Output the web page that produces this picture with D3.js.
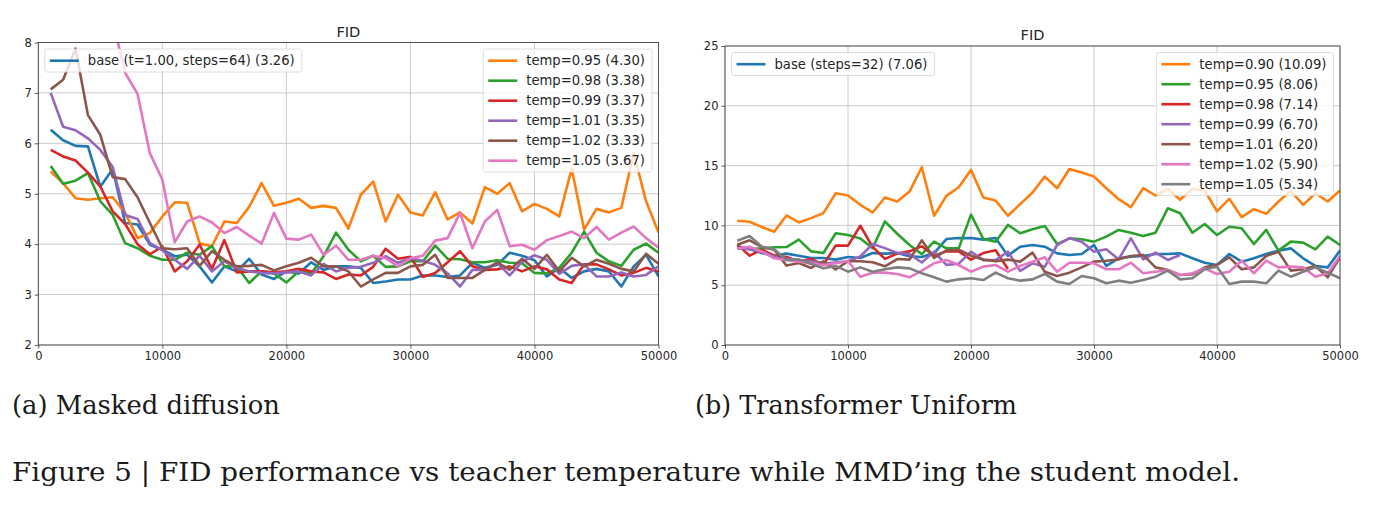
<!DOCTYPE html>
<html>
<head>
<meta charset="utf-8">
<script src="https://cdn.jsdelivr.net/npm/d3@7"></script>
<style>
  body { margin: 0; background: #fff; }
  text { font-family: "DejaVu Sans", sans-serif; }
</style>
</head>
<body>
<svg id="fig" width="1379" height="507"></svg>
<script>
// training steps at which FID was measured
const steps = d3.range(1000, 50001, 1000);
const xTicks = [0, 10000, 20000, 30000, 40000, 50000];

// (a) masked diffusion
const mdBase = [6.27,6.06,5.95,5.94,5.14,5.49,4.42,4.39,3.99,3.89, 3.76,3.79,3.56,3.24,3.56,3.46,3.71,3.40,3.31,3.46,
                3.42,3.64,3.49,3.56,3.56,3.53,3.23,3.26,3.30,3.30, 3.38,3.38,3.35,3.38,3.63,3.53,3.59,3.83,3.77,3.68,
                3.36,3.53,3.33,3.46,3.51,3.46,3.16,3.56,3.79,3.36];
const md095 = [5.44,5.21,4.91,4.88,4.91,4.93,4.62,4.12,4.22,4.55, 4.83,4.82,4.02,3.96,4.45,4.42,4.74,5.21,4.76,4.82,
               4.90,4.72,4.76,4.72,4.31,4.98,5.24,4.45,4.98,4.63, 4.57,5.03,4.49,4.63,4.41,5.13,5.00,5.21,4.65,4.80,
               4.70,4.55,5.50,4.29,4.70,4.63,4.72,5.81,4.85,4.23];
const md098 = [5.55,5.20,5.26,5.41,4.85,4.58,4.02,3.92,3.77,3.69, 3.69,3.83,3.79,3.96,3.56,3.56,3.23,3.46,3.42,3.24,
               3.46,3.42,3.76,4.23,3.89,3.66,3.77,3.55,3.56,3.66, 3.66,3.97,3.71,3.70,3.64,3.64,3.68,3.63,3.62,3.43,
               3.42,3.53,3.83,4.25,3.83,3.66,3.57,3.89,4.01,3.83];
const md099 = [5.87,5.74,5.66,5.42,5.14,4.65,4.40,4.00,3.80,3.95, 3.46,3.66,3.99,3.51,4.08,3.44,3.46,3.46,3.44,3.46,
               3.51,3.46,3.44,3.31,3.40,3.38,3.55,3.91,3.71,3.75, 3.35,3.43,3.64,3.86,3.56,3.49,3.50,3.56,3.46,3.56,
               3.50,3.30,3.23,3.60,3.60,3.50,3.38,3.43,3.53,3.46];
const md101 = [7.00,6.33,6.26,6.10,5.87,5.53,4.58,4.50,4.02,3.88, 3.69,3.51,3.77,3.46,3.66,3.53,3.46,3.43,3.42,3.44,
               3.46,3.38,3.61,3.46,3.53,3.55,3.63,3.76,3.63,3.72, 3.67,3.59,3.42,3.16,3.49,3.49,3.63,3.38,3.65,3.78,
               3.69,3.41,3.57,3.60,3.36,3.36,3.44,3.36,3.39,3.56];
const md102 = [7.07,7.26,7.88,6.56,6.17,5.33,5.29,4.93,4.42,3.92, 3.90,3.92,3.57,3.86,3.69,3.56,3.57,3.59,3.48,3.56,
               3.63,3.73,3.56,3.56,3.46,3.16,3.30,3.43,3.43,3.56, 3.59,3.79,3.33,3.33,3.33,3.49,3.64,3.49,3.71,3.51,
               3.79,3.46,3.73,3.56,3.69,3.61,3.51,3.46,3.81,3.61];
const md105 = [11.0,10.6,10.2,9.8,9.2,8.43,7.40,6.98,5.80,5.28, 4.04,4.45,4.55,4.43,4.22,4.34,4.17,4.01,4.62,4.11,
               4.09,4.19,3.79,3.97,3.69,3.69,3.77,3.72,3.56,3.72, 3.77,4.07,4.12,4.62,3.92,4.45,4.68,3.96,3.99,3.89,
               4.08,4.16,4.25,4.12,4.34,4.09,4.23,4.35,4.12,3.93];

// (b) transformer uniform
const tuBase = [8.25,8.03,7.69,7.47,7.64,7.47,7.28,7.28,7.14,7.36, 7.28,7.69,7.64,7.69,7.42,7.36,7.69,8.86,8.94,8.94,
                8.81,8.94,7.47,8.22,8.36,8.22,7.66,7.53,7.61,8.36, 6.61,7.25,7.39,7.44,7.61,7.61,7.66,7.25,6.88,6.69,
                7.61,6.97,7.25,7.61,7.89,8.08,7.25,6.61,6.49,7.89];
const tu090 = [10.39,10.31,9.86,9.47,10.83,10.25,10.61,11.03,12.69,12.50, 11.72,11.08,12.33,12.00,12.83,14.86,10.81,12.47,13.19,14.64,
               12.33,12.08,10.81,11.78,12.75,14.08,13.11,14.72,14.42,14.08, 13.11,12.19,11.53,13.11,12.50,13.06,12.14,13.06,12.92,11.17,
               12.22,10.69,11.36,10.97,12.00,12.89,11.72,12.69,12.00,12.92];
const tu095 = [8.11,8.03,8.08,8.17,8.19,8.81,7.83,7.69,9.34,9.20, 8.90,8.10,10.33,9.30,8.36,7.60,8.64,8.08,8.08,10.90,
               8.86,8.64,10.04,9.34,9.67,9.95,8.44,8.92,8.84,8.64, 9.06,9.62,9.39,9.11,9.39,11.43,11.01,9.39,10.12,9.20,
               9.89,9.76,8.44,9.62,7.89,8.64,8.56,8.00,9.06,8.36];
const tu098 = [8.39,7.47,7.97,7.47,7.36,7.00,7.19,6.72,8.31,8.31, 9.97,8.20,7.20,7.64,7.83,8.25,7.47,7.83,7.83,7.14,
               7.69,7.92,6.36];
const tu099 = [8.08,8.00,7.80,7.40,7.20,7.10,7.00,6.80,6.90,7.00, 7.40,8.44,8.10,7.70,7.60,6.90,7.80,6.70,6.80,7.80,
               7.10,7.10,7.80,6.20,6.83,6.55,8.36,8.92,8.64,7.80, 8.00,7.16,8.92,7.16,7.72,7.11,7.53];
const tu101 = [8.39,8.75,8.19,7.97,6.64,6.86,6.44,7.00,6.31,7.00, 7.00,6.92,6.58,7.19,7.14,8.75,7.28,7.92,7.97,7.47,
               7.14,7.00,7.14,6.97,7.72,6.13,5.77,6.05,6.49,6.97, 7.05,7.16,7.44,7.53,6.49,6.27,5.85,5.91,6.49,6.69,
               7.33,6.33,6.49,7.44,7.80,6.22,6.33,6.61,5.66,7.33];
const tu102 = [8.08,8.22,7.80,7.25,7.11,6.97,6.83,6.69,6.83,7.02, 5.71,6.05,6.05,5.94,5.66,6.22,6.83,7.11,6.69,6.13,
               6.55,6.69,6.13,6.61,6.97,7.33,6.13,6.88,6.88,6.83, 6.33,6.33,6.88,6.00,6.13,6.27,5.85,6.00,6.41,5.94,
               6.13,7.05,6.00,7.05,6.49,6.55,6.49,5.71,6.00,7.44];
const tu105 = [8.72,9.11,8.22,8.00,7.11,7.16,6.77,6.41,6.61,6.13, 6.49,6.13,6.33,6.49,6.41,6.00,5.66,5.30,5.49,5.58,
               5.43,6.05,5.58,5.38,5.49,5.94,5.30,5.10,5.77,5.58, 5.16,5.38,5.21,5.43,5.71,6.22,5.49,5.58,6.33,6.55,
               5.10,5.30,5.30,5.16,6.22,5.71,6.13,6.49,6.05,5.58];

const tab = { blue: "#1f77b4", orange: "#ff7f0e", green: "#2ca02c", red: "#d62728",
              purple: "#9467bd", brown: "#8c564b", pink: "#e377c2", gray: "#7f7f7f" };

const panels = [
  { x0: 38.3, x1: 658.5, yTop: 42.5, yBot: 345, yDomain: [2, 8], yTicks: [2, 3, 4, 5, 6, 7, 8],
    base: { label: "base (t=1.00, steps=64) (3.26)", values: mdBase, color: tab.blue },
    temps: [
      { label: "temp=0.95 (4.30)", values: md095, color: tab.orange },
      { label: "temp=0.98 (3.38)", values: md098, color: tab.green },
      { label: "temp=0.99 (3.37)", values: md099, color: tab.red },
      { label: "temp=1.01 (3.35)", values: md101, color: tab.purple },
      { label: "temp=1.02 (3.33)", values: md102, color: tab.brown },
      { label: "temp=1.05 (3.67)", values: md105, color: tab.pink }
    ] },
  { x0: 725, x1: 1340, yTop: 46, yBot: 345, yDomain: [0, 25], yTicks: [0, 5, 10, 15, 20, 25],
    base: { label: "base (steps=32) (7.06)", values: tuBase, color: tab.blue },
    temps: [
      { label: "temp=0.90 (10.09)", values: tu090, color: tab.orange },
      { label: "temp=0.95 (8.06)", values: tu095, color: tab.green },
      { label: "temp=0.98 (7.14)", values: tu098, color: tab.red },
      { label: "temp=0.99 (6.70)", values: tu099, color: tab.purple },
      { label: "temp=1.01 (6.20)", values: tu101, color: tab.brown },
      { label: "temp=1.02 (5.90)", values: tu102, color: tab.pink },
      { label: "temp=1.05 (5.34)", values: tu105, color: tab.gray }
    ] }
];

const svg = d3.select("#fig");
svg.append("rect").attr("width", 1379).attr("height", 507).attr("fill", "#fff");

function legend(g, entries, left, top, anchorRight) {
  const lg = g.append("g");
  const box = lg.append("rect");
  const rows = lg.selectAll("g").data(entries).enter().append("g");
  rows.append("line")
      .attr("x1", 5).attr("x2", 34)
      .attr("y1", (d, i) => 11.7 + 20 * i).attr("y2", (d, i) => 11.7 + 20 * i)
      .attr("stroke", d => d.color).attr("stroke-width", 2.6);
  const txt = rows.append("text")
      .attr("x", 43).attr("y", (d, i) => 11.7 + 20 * i)
      .attr("dy", "0.36em")
      .attr("font-size", 13.2).attr("fill", "#262626")
      .text(d => d.label);
  let w = 0;
  txt.each(function() { w = Math.max(w, this.getComputedTextLength()); });
  const bw = w + 50, bh = entries.length * 20 + 3;
  box.attr("width", bw).attr("height", bh).attr("rx", 2)
     .attr("fill", "#fff").attr("fill-opacity", 0.8)
     .attr("stroke", "#d6d6d6").attr("stroke-width", 0.8);
  const lx = anchorRight ? left - bw : left;
  lg.attr("transform", "translate(" + lx + "," + top + ")");
}

panels.forEach(function(p, pi) {
  const x = d3.scaleLinear().domain([0, 50000]).range([p.x0, p.x1]);
  const y = d3.scaleLinear().domain(p.yDomain).range([p.yBot, p.yTop]);
  const g = svg.append("g");

  // grid
  g.selectAll(".gx").data(xTicks).enter().append("line")
      .attr("x1", d => x(d)).attr("x2", d => x(d))
      .attr("y1", p.yTop).attr("y2", p.yBot)
      .attr("stroke", "#c4c4c4").attr("stroke-width", 0.9);
  g.selectAll(".gy").data(p.yTicks).enter().append("line")
      .attr("x1", p.x0).attr("x2", p.x1)
      .attr("y1", d => y(d)).attr("y2", d => y(d))
      .attr("stroke", "#c4c4c4").attr("stroke-width", 0.9);

  // lines
  const clipId = "clip" + pi;
  g.append("clipPath").attr("id", clipId).append("rect")
      .attr("x", p.x0).attr("y", p.yTop)
      .attr("width", p.x1 - p.x0).attr("height", p.yBot - p.yTop);
  const line = d3.line().x((d, i) => x(steps[i])).y(d => y(d));
  const all = [p.base].concat(p.temps);
  g.append("g").attr("clip-path", "url(#" + clipId + ")")
    .selectAll("path").data(all).enter().append("path")
      .attr("d", d => line(d.values))
      .attr("fill", "none")
      .attr("stroke", d => d.color)
      .attr("stroke-width", 2.6)
      .attr("stroke-linejoin", "round");

  // axes
  const xa = g.append("g").attr("transform", "translate(0," + p.yBot + ")")
      .call(d3.axisBottom(x).tickValues(xTicks).tickFormat(d3.format("d")).tickSize(3.5).tickPadding(3));
  const ya = g.append("g").attr("transform", "translate(" + p.x0 + ",0)")
      .call(d3.axisLeft(y).tickValues(p.yTicks).tickFormat(d3.format("d")).tickSize(3.5).tickPadding(3));
  [xa, ya].forEach(a => {
    a.select(".domain").remove();
    a.selectAll("line").attr("stroke", "#333").attr("stroke-width", 0.8);
    a.selectAll("text").attr("font-size", 11.5).attr("fill", "#262626")
      .attr("font-family", "DejaVu Sans, sans-serif");
  });

  // frame
  g.append("rect")
      .attr("x", p.x0).attr("y", p.yTop)
      .attr("width", p.x1 - p.x0).attr("height", p.yBot - p.yTop)
      .attr("fill", "none").attr("stroke", "#333").attr("stroke-width", 0.8);

  // title
  g.append("text")
      .attr("x", (p.x0 + p.x1) / 2).attr("y", p.yTop - 6)
      .attr("text-anchor", "middle")
      .attr("font-size", 14.6).attr("fill", "#262626")
      .text("FID");

  legend(g, [p.base], p.x0 + 6.5, p.yTop + 6.5, false);
  legend(g, p.temps, p.x1 - 6.5, p.yTop + 6.5, true);
});

// captions
const captions = [
  { text: "(a) Masked diffusion", x: 12, y: 414, w: 268 },
  { text: "(b) Transformer Uniform", x: 695, y: 414, w: 322 },
  { text: "Figure 5 | FID performance vs teacher temperature while MMD\u2019ing the student model.", x: 12, y: 481, w: 1228 }
];
svg.selectAll(".cap").data(captions).enter().append("text")
    .attr("x", d => d.x).attr("y", d => d.y)
    .attr("textLength", d => d.w).attr("lengthAdjust", "spacingAndGlyphs")
    .style("font-family", "'DejaVu Serif', serif")
    .attr("font-size", 25.5).attr("fill", "#1a1a1a")
    .text(d => d.text);
</script>
</body>
</html>
